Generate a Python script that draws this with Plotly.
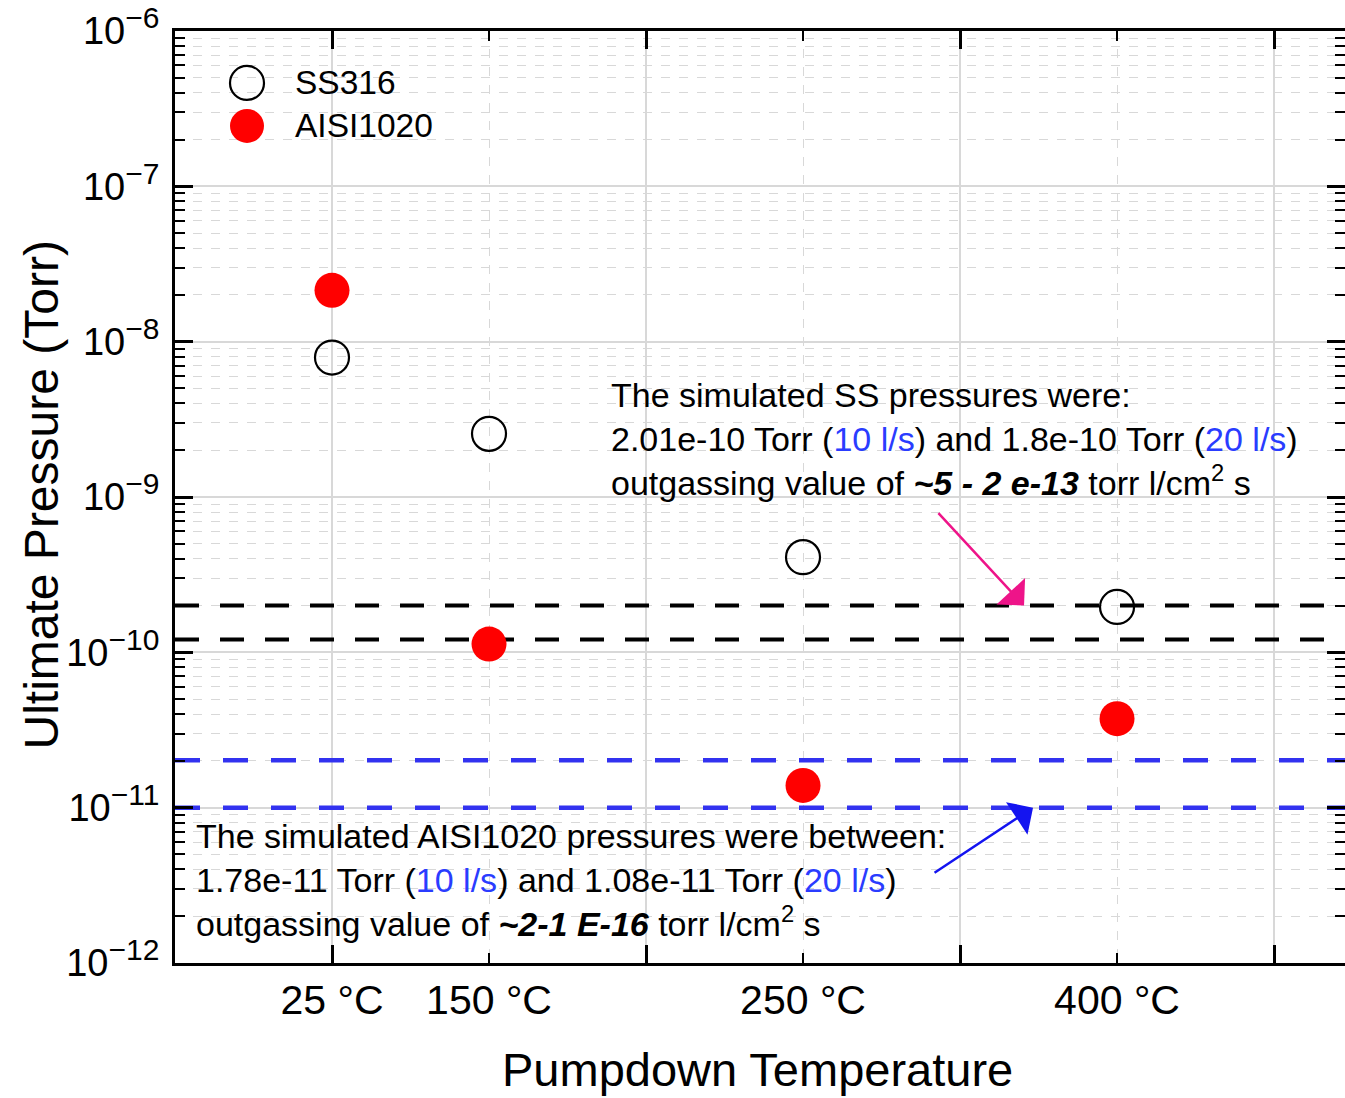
import math
import plotly.graph_objects as go

# ---------------- data ----------------
temps = ["25 °C", "150 °C", "250 °C", "400 °C"]
temp_pos = [1, 2, 4, 6]
ss316 = [7.9e-9, 2.55e-9, 4.1e-10, 1.96e-10]
aisi1020 = [2.14e-8, 1.13e-10, 1.39e-11, 3.74e-11]
ss_sim = [2.0e-10, 1.21e-10]      # simulated SS pressures (dashed black)
aisi_sim = [2.02e-11, 1.0e-11]    # simulated AISI1020 pressures (dashed blue)
y_exponents = [-12, -11, -10, -9, -8, -7, -6]
y_ticktext = [f"10<sup><span style='font-size:30px'>−{abs(e)}</span></sup>" for e in y_exponents]

X_MAX = 7.452
FONT = "Liberation Sans, Arial, sans-serif"
BLUE_TXT = "#2a3cff"
GRID = "#d8d8d8"

fig = go.Figure()

for v in ss_sim:
    fig.add_trace(go.Scatter(x=[0, X_MAX], y=[v, v], mode="lines",
                             line=dict(color="black", width=4, dash="24px,21px"),
                             showlegend=False, hoverinfo="skip"))
for v in aisi_sim:
    fig.add_trace(go.Scatter(x=[0, X_MAX], y=[v, v], mode="lines",
                             line=dict(color="rgb(50,50,240)", width=4.5, dash="25px,23px"),
                             showlegend=False, hoverinfo="skip"))

fig.add_trace(go.Scatter(x=temp_pos, y=ss316, mode="markers", name="SS316",
                         marker=dict(symbol="circle-open", size=34, color="black",
                                     line=dict(width=2.2)),
                         showlegend=False))
fig.add_trace(go.Scatter(x=temp_pos, y=aisi1020, mode="markers", name="AISI1020",
                         marker=dict(symbol="circle", size=35, color="#ff0000"),
                         showlegend=False))

# invisible trace for the labelled category axis
fig.add_trace(go.Scatter(x=temp_pos, y=ss316, xaxis="x2", mode="markers",
                         marker=dict(opacity=0), showlegend=False, hoverinfo="skip"))

# ---------------- legend (custom, large symbols) ----------------
leg_x = (247 - 175) / 1170
leg_rows = [((963 - 82) / 933, "SS316", dict(type="circle", line=dict(color="black", width=2.2), fillcolor="rgba(0,0,0,0)")),
            ((963 - 125) / 933, "AISI1020", dict(type="circle", line=dict(width=0), fillcolor="#ff0000"))]
shapes = []
annotations = []
for yy, name, sty in leg_rows:
    s = dict(xref="paper", yref="paper", xsizemode="pixel", ysizemode="pixel",
             xanchor=leg_x, yanchor=yy, x0=-17, x1=17, y0=-17, y1=17, layer="above")
    s.update(sty)
    shapes.append(s)
    annotations.append(dict(xref="paper", yref="paper", x=(293 - 175) / 1170, y=yy,
                            xanchor="left", yanchor="middle", showarrow=False,
                            text=name, font=dict(family=FONT, size=33.5, color="black")))

# ---------------- text annotations ----------------
ss_text = ("The simulated SS pressures were:<br>"
           f"2.01e-10 Torr (<span style='color:{BLUE_TXT}'>10 l/s</span>) and 1.8e-10 Torr "
           f"(<span style='color:{BLUE_TXT}'>20 l/s</span>)<br>"
           "outgassing value of <b><i>~5 - 2 e-13</i></b> torr l/cm<sup>2</sup> s")
aisi_text = ("The simulated AISI1020 pressures were between:<br>"
             f"1.78e-11 Torr (<span style='color:{BLUE_TXT}'>10 l/s</span>) and 1.08e-11 Torr "
             f"(<span style='color:{BLUE_TXT}'>20 l/s</span>)<br>"
             "outgassing value of <b><i>~2-1 E-16</i></b> torr l/cm<sup>2</sup> s")

annotations += [
    dict(xref="paper", yref="paper", x=(609 - 175) / 1170, y=(963 - 373) / 933,
         xanchor="left", yanchor="top", align="left", showarrow=False,
         text=ss_text, font=dict(family=FONT, size=34, color="black")),
    dict(xref="paper", yref="paper", x=(194 - 175) / 1170, y=(963 - 815) / 933,
         xanchor="left", yanchor="top", align="left", showarrow=False,
         text=aisi_text, font=dict(family=FONT, size=34, color="black")),
    # arrows
    dict(x=(1024 - 175) / 157, y=math.log10(ss_sim[0]), xref="x", yref="y",
         ax=-87, ay=-94, text="", showarrow=True, arrowhead=1, arrowsize=2.6,
         arrowwidth=2.5, arrowcolor="#ee1489"),
    dict(x=(1033 - 175) / 157, y=math.log10(aisi_sim[1]), xref="x", yref="y",
         ax=-100, ay=66, text="", showarrow=True, arrowhead=1, arrowsize=2.6,
         arrowwidth=2.5, arrowcolor="rgb(20,20,240)"),
    # axis titles
    dict(xref="paper", yref="paper", x=(42 - 175) / 1170, y=(963 - 495) / 933,
         xanchor="center", yanchor="middle", textangle=-90, showarrow=False,
         text="Ultimate Pressure (Torr)", font=dict(family=FONT, size=48, color="black")),
    dict(xref="paper", yref="paper", x=(757 - 175) / 1170, y=(963 - 1070) / 933,
         xanchor="center", yanchor="middle", showarrow=False,
         text="Pumpdown Temperature", font=dict(family=FONT, size=47, color="black")),
]

fig.update_layout(
    width=1345, height=1098,
    margin=dict(l=175, r=0, t=31, b=135, autoexpand=False),
    paper_bgcolor="white", plot_bgcolor="white",
    font=dict(family=FONT, color="black"),
    showlegend=False,
    shapes=shapes, annotations=annotations,
    xaxis=dict(range=[0, X_MAX], showticklabels=False, tick0=1, dtick=2,
               ticks="inside", ticklen=18, tickwidth=2.5, tickcolor="black",
               showgrid=True, gridcolor=GRID, gridwidth=1.5,
               showline=True, linewidth=3, linecolor="black", mirror="ticks",
               zeroline=False,
               minor=dict(tick0=0, dtick=2, ticks="inside", ticklen=10, tickwidth=2,
                          tickcolor="black", showgrid=True, griddash="dash",
                          gridcolor=GRID, gridwidth=1)),
    xaxis2=dict(range=[0, X_MAX], overlaying="x", anchor="y", side="bottom",
                tickvals=temp_pos, ticktext=temps, ticks="", showgrid=False,
                showline=False, zeroline=False, ticklabelstandoff=9,
                tickfont=dict(family=FONT, size=41, color="black")),
    yaxis=dict(type="log", range=[-12, -6],
               tickvals=[10.0 ** e for e in y_exponents], ticktext=y_ticktext,
               ticklabeloverflow="allow", ticklabelstandoff=5,
               tickfont=dict(family=FONT, size=38, color="black"),
               ticks="inside", ticklen=18, tickwidth=2.5, tickcolor="black",
               showgrid=True, gridcolor=GRID, gridwidth=1.5,
               showline=True, linewidth=3, linecolor="black", mirror="ticks",
               zeroline=False,
               minor=dict(dtick="D1", ticks="inside", ticklen=10, tickwidth=2,
                          tickcolor="black", showgrid=True, griddash="dash",
                          gridcolor=GRID, gridwidth=1)),
)

fig.write_html("out.html")
